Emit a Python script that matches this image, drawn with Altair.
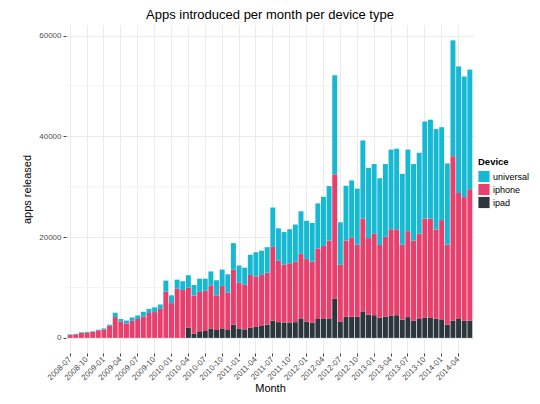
import altair as alt
import pandas as pd

# Months (category labels)
months = [f"{y}-{m:02d}" for y in range(2008, 2015) for m in range(1, 13)]
months = months[months.index("2008-07"):months.index("2014-06") + 1]
tick_months = months[::3]

ipad = [0] * 21 + [
    2000, 810, 1310, 1375, 1875, 1560, 1875, 1560, 2625, 1875,
    1690, 2000, 2190, 2375, 2625, 3440, 3125, 3060, 3060, 3125,
    3875, 3250, 3000, 3750, 3875, 3875, 7750, 3250, 4190, 4190,
    4190, 5250, 4625, 4500, 4000, 4190, 4375, 4500, 3625, 4125,
    3440, 3750, 4060, 4060, 3810, 3560, 2625, 3440, 3750, 3375, 3440]
iphone = [
    560, 690, 1000, 1060, 1190, 1500, 1690, 2440, 4125, 3250,
    2875, 3375, 3750, 4250, 4940, 5125, 5750, 9190, 6900, 9750,
    9500, 7940, 7565, 7815, 8000, 8565, 6880, 8435, 7440, 10935,
    9065, 8870, 10500, 10000, 10125, 10315, 14620, 12185, 11440, 11750,
    12000, 12815, 12375, 12125, 14000, 14375, 15435, 24690, 11250, 15120,
    15750, 14310, 18440, 15185, 16250, 14440, 15870, 17185, 17060, 14875,
    17065, 15870, 16940, 19630, 19630, 17690, 19815, 15875, 32620, 25000,
    24565, 26060]
universal = [
    130, 120, 125, 130, 120, 125, 185, 185, 875, 500,
    565, 685, 690, 940, 810, 935, 875, 2185, 1540, 1810,
    1750, 2500, 2125, 2625, 2375, 2750, 3000, 3250, 3625, 5250,
    3435, 3380, 4000, 4810, 4810, 5060, 7815, 6440, 6500, 6750,
    7375, 8435, 7625, 7685, 8940, 9750, 10815, 19685, 8440, 10880,
    11310, 11125, 15500, 13940, 13750, 13250, 14440, 15815, 16000, 14060,
    16185, 15190, 16060, 19250, 19620, 19940, 18435, 16125, 23000, 25125,
    23935, 23750]

devices = ["universal", "iphone", "ipad"]
colors = ["#17B9D2", "#E7406C", "#2B373D"]
stack_rank = {"ipad": 0, "iphone": 1, "universal": 2}

rows = []
for i, m in enumerate(months):
    for dev, series in (("ipad", ipad), ("iphone", iphone), ("universal", universal)):
        rows.append({"Month": m, "Device": dev, "apps": series[i], "rank": stack_rank[dev]})
df = pd.DataFrame(rows)

y_major = [0, 20000, 40000, 60000]
y_minor = [10000, 30000, 50000]
minor_df = pd.DataFrame({"v": y_minor})

FONT = "Liberation Sans"

yscale = alt.Scale(domain=[-3000, 62100], nice=False, zero=False)

minor = alt.Chart(minor_df).mark_rule(color="#F3F3F3", strokeWidth=1).encode(
    y=alt.Y("v:Q", scale=yscale)
)

bars = alt.Chart(df).mark_bar().encode(
    x=alt.X(
        "Month:O",
        sort=months,
        scale=alt.Scale(domain=months, paddingInner=0.12, paddingOuter=0.3),
        axis=alt.Axis(
            values=tick_months, labelAngle=-45, labelAlign="right",
            labelBaseline="middle", labelPadding=2, grid=True,
            title="Month", titlePadding=1,
        ),
    ),
    y=alt.Y(
        "apps:Q", stack="zero", scale=yscale,
        axis=alt.Axis(values=y_major, format="d", grid=True, title="apps released", titlePadding=6),
    ),
    color=alt.Color(
        "Device:N",
        scale=alt.Scale(domain=devices, range=colors),
        legend=alt.Legend(
            title="Device", orient="none", legendX=412, legendY=132,
            symbolType="square", symbolSize=125, symbolStrokeWidth=0,
            symbolOpacity=1, rowPadding=1, labelOffset=3, titlePadding=4,
            titleFontWeight="bold",
        ),
    ),
    order=alt.Order("rank:Q", sort="ascending"),
)

chart = alt.layer(minor, bars).properties(
    width=408,
    height=328,
    padding={"left": 58, "top": 17, "right": 58, "bottom": 40},
    autosize=alt.AutoSizeParams(type="none"),
    title=alt.Title(
        "Apps introduced per month per device type",
        fontSize=13, fontWeight="normal", font=FONT, color="#000000",
        anchor="middle", offset=3,
    ),
).configure_view(stroke=None).configure_axis(
    domain=False,
    gridColor="#EBEBEB",
    gridWidth=1,
    tickColor="#444444",
    tickSize=3,
    labelFont=FONT,
    labelFontSize=8,
    labelColor="#4D4D4D",
    titleFont=FONT,
    titleFontSize=11,
    titleFontWeight="normal",
    titleColor="#000000",
).configure_legend(
    labelFont=FONT, labelFontSize=9, labelColor="#000000",
    titleFont=FONT, titleFontSize=9.5, titleColor="#000000",
)

chart.save("out.html", embed_options={"renderer": "svg", "actions": False})
